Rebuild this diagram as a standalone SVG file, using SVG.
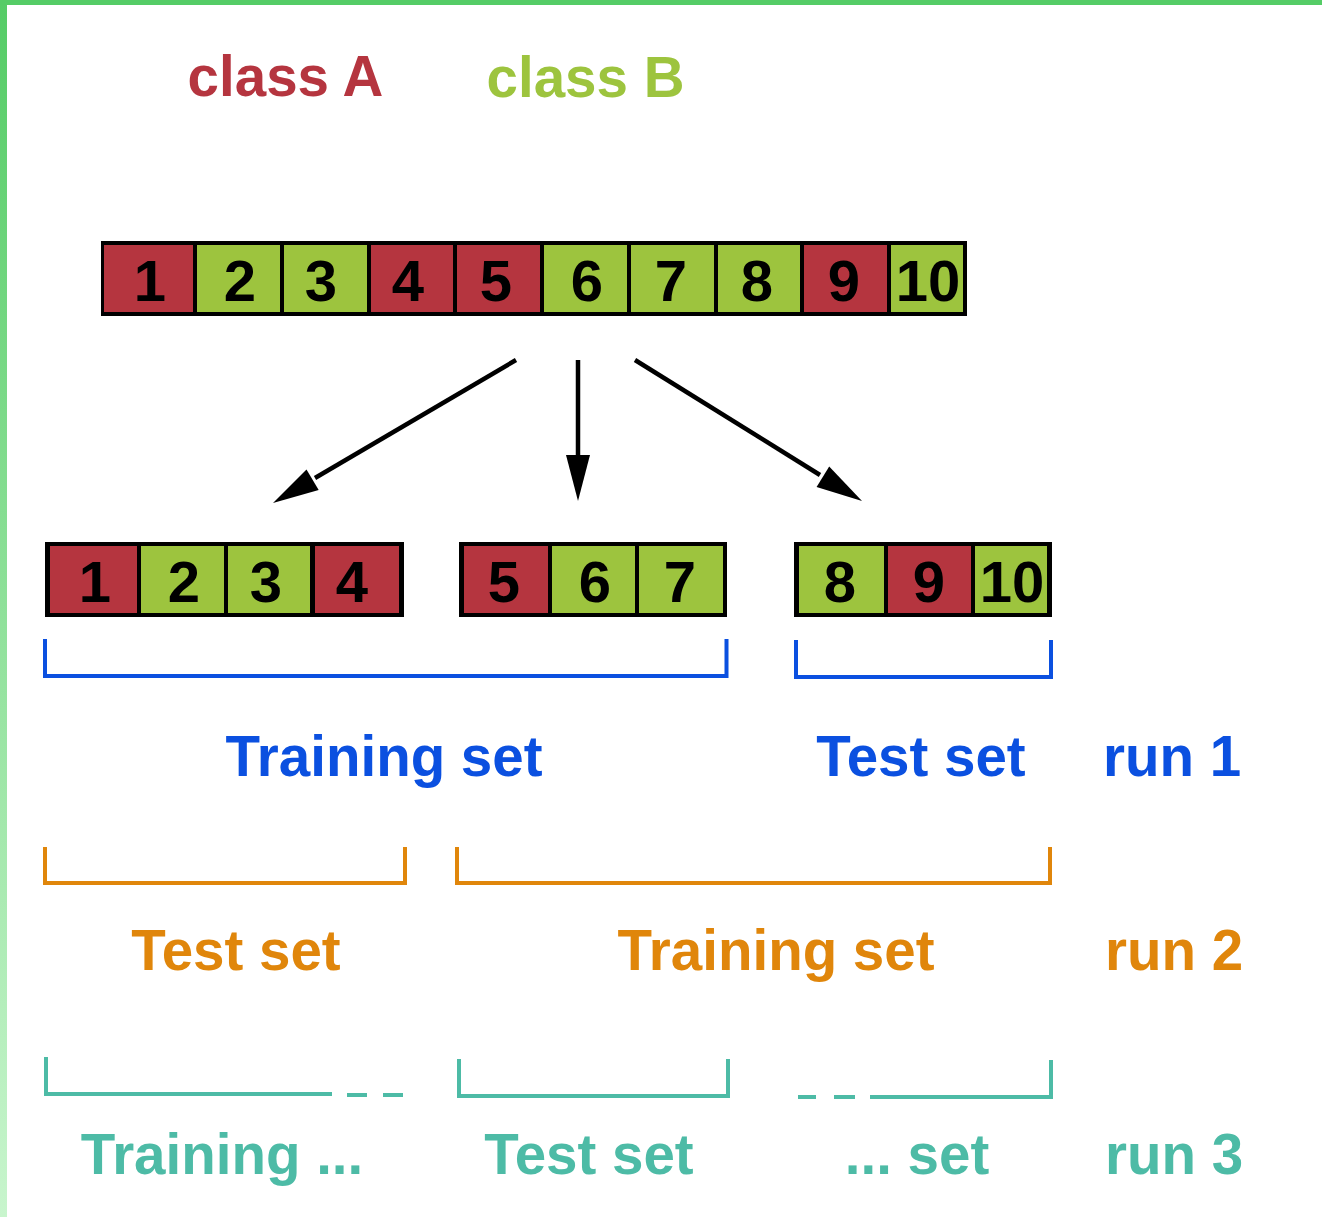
<svg xmlns="http://www.w3.org/2000/svg" width="1322" height="1217" viewBox="0 0 1322 1217">
<style>
.t{font-family:"Liberation Sans",Arial,sans-serif;font-weight:bold;text-anchor:middle}
.lbl{font-size:56.5px}
.num{font-size:58px;fill:#000}
.red{fill:#b5353f}
.grn{fill:#9dc43e}
.frame{fill:#000}
.br{fill:none;stroke-width:4}
.blue{stroke:#0b50e0}
.orange{stroke:#e0860b}
.teal{stroke:#4dbba6}
.arr{stroke:#000;stroke-width:4.5;fill:none}
.head{fill:#000}
</style>
<defs>
<linearGradient id="lg" x1="0" y1="0" x2="0" y2="1">
<stop offset="0" stop-color="#55cc66"/>
<stop offset="1" stop-color="#c8f5cd"/>
</linearGradient>
</defs>
<rect width="1322" height="1217" fill="#fff"/>
<rect x="0" y="0" width="7" height="1217" fill="url(#lg)"/>
<rect x="0" y="0" width="1322" height="5" fill="#55cc66"/>

<text class="t lbl" x="285.5" y="96" fill="#b5353f">class A</text>
<text class="t lbl" x="585.5" y="97" fill="#9dc43e">class B</text>

<g id="full-set">
<rect class="frame" x="101" y="241" width="866" height="75"/>
<rect class="red" x="104" y="245" width="89" height="67"/>
<rect class="grn" x="197" y="245" width="83" height="67"/>
<rect class="grn" x="284" y="245" width="83" height="67"/>
<rect class="red" x="371" y="245" width="82" height="67"/>
<rect class="red" x="457" y="245" width="83" height="67"/>
<rect class="grn" x="544" y="245" width="83" height="67"/>
<rect class="grn" x="631" y="245" width="83" height="67"/>
<rect class="grn" x="718" y="245" width="82" height="67"/>
<rect class="red" x="804" y="245" width="83" height="67"/>
<rect class="grn" x="891" y="245" width="72" height="67"/>
<text class="t num" x="150" y="301">1</text>
<text class="t num" x="240" y="301">2</text>
<text class="t num" x="321" y="301">3</text>
<text class="t num" x="408" y="301">4</text>
<text class="t num" x="496" y="301">5</text>
<text class="t num" x="587" y="301">6</text>
<text class="t num" x="671" y="301">7</text>
<text class="t num" x="757" y="301">8</text>
<text class="t num" x="844" y="301">9</text>
<text class="t num" x="928" y="301">10</text>
</g>

<g id="connectors">
<line class="arr" x1="516" y1="360" x2="315" y2="478"/>
<polygon class="head" points="273,503 318.7,490 306.5,469.4"/>
<line class="arr" x1="578" y1="360" x2="578" y2="458"/>
<polygon class="head" points="578,501 566,455 590,455"/>
<line class="arr" x1="635" y1="360" x2="820" y2="475"/>
<polygon class="head" points="862,501 816.6,486.9 829.2,466.5"/>
</g>

<g id="fold-1">
<rect class="frame" x="45" y="542" width="359" height="75"/>
<rect class="red" x="50" y="546" width="87" height="67"/>
<rect class="grn" x="141" y="546" width="83" height="67"/>
<rect class="grn" x="228" y="546" width="82" height="67"/>
<rect class="red" x="315" y="546" width="84" height="67"/>
<text class="t num" x="95" y="602">1</text>
<text class="t num" x="184" y="602">2</text>
<text class="t num" x="266" y="602">3</text>
<text class="t num" x="352" y="602">4</text>
</g>

<g id="fold-2">
<rect class="frame" x="459" y="542" width="268" height="75"/>
<rect class="red" x="464" y="546" width="84" height="67"/>
<rect class="grn" x="552" y="546" width="83" height="67"/>
<rect class="grn" x="639" y="546" width="84" height="67"/>
<text class="t num" x="504" y="602">5</text>
<text class="t num" x="595" y="602">6</text>
<text class="t num" x="680" y="602">7</text>
</g>

<g id="fold-3">
<rect class="frame" x="794" y="542" width="258" height="75"/>
<rect class="grn" x="799" y="546" width="85" height="67"/>
<rect class="red" x="888" y="546" width="83" height="67"/>
<rect class="grn" x="975" y="546" width="72" height="67"/>
<text class="t num" x="840" y="602">8</text>
<text class="t num" x="929" y="602">9</text>
<text class="t num" x="1012" y="602">10</text>
</g>

<g id="run-1">
<path class="br blue" d="M45,639 V676 H726.5 V639"/>
<path class="br blue" d="M796,640 V677 H1051 V640"/>
<text class="t lbl" x="384" y="776" fill="#0b50e0">Training set</text>
<text class="t lbl" x="921" y="776" fill="#0b50e0">Test set</text>
<text class="t lbl" x="1172" y="776" fill="#0b50e0">run 1</text>
</g>

<g id="run-2">
<path class="br orange" d="M45,847 V883 H405 V847"/>
<path class="br orange" d="M457,847 V883 H1050 V847"/>
<text class="t lbl" x="236" y="970" fill="#e0860b">Test set</text>
<text class="t lbl" x="776" y="970" fill="#e0860b">Training set</text>
<text class="t lbl" x="1174" y="970" fill="#e0860b">run 2</text>
</g>

<g id="run-3">
<path class="br teal" d="M46,1057 V1094 H332"/>
<line class="br teal" x1="347" y1="1095" x2="367" y2="1095"/>
<line class="br teal" x1="383" y1="1095" x2="403" y2="1095"/>
<path class="br teal" d="M459,1059 V1096 H728 V1059"/>
<line class="br teal" x1="798" y1="1097" x2="816" y2="1097"/>
<line class="br teal" x1="834" y1="1097" x2="855" y2="1097"/>
<path class="br teal" d="M870,1097 H1051 V1060"/>
<text class="t lbl" x="222" y="1174" fill="#4dbba6">Training ...</text>
<text class="t lbl" x="589" y="1174" fill="#4dbba6">Test set</text>
<text class="t lbl" x="917" y="1174" fill="#4dbba6">... set</text>
<text class="t lbl" x="1174" y="1174" fill="#4dbba6">run 3</text>
</g>
</svg>
